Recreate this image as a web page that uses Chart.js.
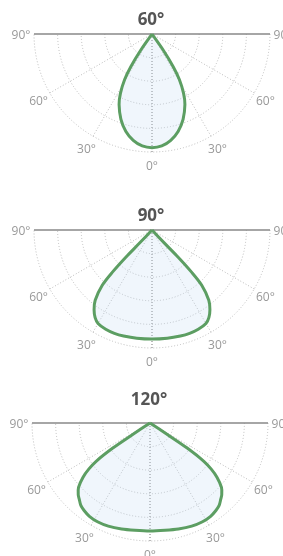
<!DOCTYPE html>
<html>
<head>
<meta charset="utf-8">
<script src="https://cdn.jsdelivr.net/npm/chart.js@4"></script>
<style>
  html, body { margin: 0; padding: 0; background: #fff; }
  body { width: 283px; height: 556px; overflow: hidden; }
  canvas { display: block; }
</style>
</head>
<body>
<canvas id="beam60" width="283" height="196"></canvas>
<canvas id="beam90" width="283" height="186"></canvas>
<canvas id="beam120" width="283" height="174"></canvas>
<script>
  // beam titles
  const beamTitles = ['60°', '90°', '120°'];

  // relative intensity (1 = outer ring) against angle off the axis, one half of each symmetric curve
  const angles60 = [0, 5, 10, 15, 20, 25, 28, 31, 33, 35, 36];
  const values60 = [0.963, 0.952, 0.915, 0.855, 0.77, 0.66, 0.57, 0.45, 0.33, 0.16, 0];

  const angles90 = [0, 8, 15, 20, 25, 30, 33, 36, 39, 42, 43.2, 43.9, 43.5, 43];
  const values90 = [0.924, 0.926, 0.93, 0.932, 0.928, 0.914, 0.885, 0.835, 0.765, 0.63, 0.49, 0.32, 0.15, 0];

  const angles120 = [0, 8, 15, 22, 28, 33, 37, 40, 43, 45, 48, 51, 53, 54.6, 56, 56.4, 56];
  const values120 = [0.915, 0.918, 0.93, 0.943, 0.948, 0.943, 0.928, 0.912, 0.88, 0.86, 0.815, 0.73, 0.65, 0.56, 0.38, 0.18, 0];

  // grid
  const ringValues = [0.2, 0.4, 0.6, 0.8, 1.0];
  const spokeAngles = [-60, -30, 0, 30, 60];
  const angleTicks = [-90, -60, -30, 0, 30, 60, 90];

  const R = 118; // px per unit
  const layoutsPx = [
    { id: 'beam60', cx: 152, cy: 34, titleTop: 10 },
    { id: 'beam90', cx: 152, cy: 34, titleTop: 10 },
    { id: 'beam120', cx: 150, cy: 41, titleTop: 8 }
  ];

  function polar(deg, r) {
    let a = deg * Math.PI / 180;
    return { x: r * Math.sin(a), y: -r * Math.cos(a) };
  }

  function curvePoints(angles, values) {
    let pts = [];
    for (let i = angles.length - 1; i > 0; i--) pts.push(polar(-angles[i], values[i]));
    for (let i = 0; i < angles.length; i++) pts.push(polar(angles[i], values[i]));
    return pts;
  }

  const polarGrid = {
    id: 'polarGrid',
    beforeDatasetsDraw(chart) {
      const { ctx, scales: { x, y } } = chart;
      const ox = x.getPixelForValue(0), oy = y.getPixelForValue(0);
      const unit = x.getPixelForValue(1) - ox;
      ctx.save();
      ctx.lineWidth = 1;
      ctx.setLineDash([1, 2]);
      ctx.strokeStyle = '#bbb';
      ringValues.forEach(v => {
        ctx.beginPath();
        ctx.arc(ox, oy, v * unit, 0, Math.PI);
        ctx.stroke();
      });
      spokeAngles.forEach(a => {
        let p = polar(a, 1);
        ctx.strokeStyle = a === 0 ? '#777' : '#bbb';
        ctx.beginPath();
        ctx.moveTo(ox, oy);
        ctx.lineTo(x.getPixelForValue(p.x), y.getPixelForValue(p.y));
        ctx.stroke();
      });
      ctx.setLineDash([]);
      ctx.strokeStyle = '#888';
      ctx.lineWidth = 1.5;
      ctx.beginPath();
      ctx.moveTo(x.getPixelForValue(-1), oy);
      ctx.lineTo(x.getPixelForValue(1), oy);
      ctx.stroke();

      ctx.fillStyle = '#999';
      ctx.font = '12px "Open Sans"';
      ctx.textAlign = 'center';
      ctx.textBaseline = 'middle';
      angleTicks.forEach(a => {
        let p = polar(a, 1.11);
        ctx.fillText(Math.abs(a) + '°', x.getPixelForValue(p.x), y.getPixelForValue(p.y) + 2);
      });
      ctx.restore();
    }
  };

  const curves = [
    curvePoints(angles60, values60),
    curvePoints(angles90, values90),
    curvePoints(angles120, values120)
  ];

  layoutsPx.forEach((L, i) => {
    let canvas = document.getElementById(L.id);
    let W = canvas.width, H = canvas.height;
    let padLeft = 2 * (L.cx - 1) - W;
    let titleBottom = 2;
    let areaTop = L.titleTop + 20 + titleBottom;
    new Chart(canvas.getContext('2d'), {
      type: 'line',
      data: {
        datasets: [{
          data: curves[i],
          borderColor: '#5c9e62',
          borderWidth: 3,
          backgroundColor: 'rgba(196, 220, 242, 0.25)',
          fill: 'shape',
          tension: 0.3,
          pointRadius: 0,
          clip: false
        }]
      },
      options: {
        responsive: false,
        animation: false,
        devicePixelRatio: 1,
        layout: { padding: { left: padLeft, right: 0, top: 0, bottom: 0 } },
        scales: {
          x: { type: 'linear', display: false, min: -(L.cx - padLeft) / R, max: (W - L.cx) / R },
          y: { type: 'linear', display: false, min: -(H - L.cy) / R, max: (L.cy - areaTop) / R }
        },
        plugins: {
          legend: { display: false },
          tooltip: { enabled: false },
          title: {
            display: true,
            text: beamTitles[i],
            color: '#555',
            font: { family: '"Open Sans"', size: 17, weight: 'bold', lineHeight: '20px' },
            padding: { top: L.titleTop, bottom: titleBottom }
          }
        }
      },
      plugins: [polarGrid]
    });
  });
</script>
</body>
</html>
